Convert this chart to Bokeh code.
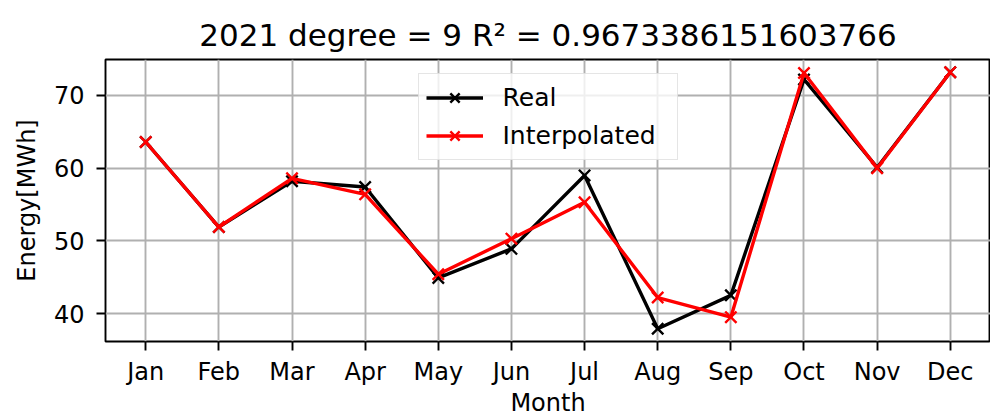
from bokeh.plotting import figure
from bokeh.models import FixedTicker, Range1d
from bokeh.embed import file_html
from bokeh.resources import INLINE

months = ["Jan", "Feb", "Mar", "Apr", "May", "Jun", "Jul", "Aug", "Sep", "Oct", "Nov", "Dec"]
real = [63.6, 51.9, 58.2, 57.4, 44.9, 48.9, 59.0, 37.9, 42.5, 72.2, 60.1, 73.2]
interpolated = [63.6, 51.9, 58.6, 56.4, 45.4, 50.3, 55.3, 42.2, 39.5, 73.1, 60.0, 73.2]
y_ticks = [40, 50, 60, 70]
title_text = "2021 degree = 9 R\u00b2 = 0.9673386151603766"

x = list(range(len(months)))
FONT = "DejaVu Sans"

p = figure(width=990, height=419, output_backend="svg", toolbar_location=None,
           x_range=Range1d(-0.55, 11.55), y_range=Range1d(36.15, 74.95),
           min_border_left=105, min_border_right=0, min_border_top=59, min_border_bottom=78)

p.title.text = title_text
p.title.align = "center"
p.title.text_font = FONT
p.title.text_font_size = "31px"
p.title.text_font_style = "normal"
p.title.text_color = "black"
p.title.offset = 0
p.title.standoff = 14

p.outline_line_color = "black"
p.outline_line_width = 1.9

for ax in (p.xaxis, p.yaxis):
    ax.axis_line_color = None
    ax.major_tick_line_color = "black"
    ax.major_tick_line_width = 1.9
    ax.major_tick_out = 9
    ax.major_tick_in = 0
    ax.minor_tick_line_color = None
    ax.major_label_text_font = FONT
    ax.major_label_text_font_size = "24px"
    ax.major_label_text_color = "black"
    ax.axis_label_text_font = FONT
    ax.axis_label_text_font_size = "24px"
    ax.axis_label_text_font_style = "normal"
    ax.axis_label_text_color = "black"

p.xaxis.ticker = FixedTicker(ticks=x)
p.xaxis.major_label_overrides = {i: m for i, m in enumerate(months)}
p.xaxis.major_label_standoff = 7
p.xaxis.axis_label = "Month"
p.xaxis.axis_label_standoff = 0

p.yaxis.ticker = FixedTicker(ticks=y_ticks)
p.yaxis.major_label_standoff = 12
p.yaxis.axis_label = "Energy[MWh]"
p.yaxis.axis_label_standoff = 10

p.grid.grid_line_color = "#b0b0b0"
p.grid.grid_line_width = 1.9
p.xgrid.ticker = FixedTicker(ticks=x)
p.ygrid.ticker = FixedTicker(ticks=y_ticks)

p.line(x, real, line_color="black", line_width=3.4, legend_label="Real")
p.scatter(x, real, marker="x", size=16, line_color="black", line_width=2.4, legend_label="Real")
p.line(x, interpolated, line_color="red", line_width=3.4, legend_label="Interpolated")
p.scatter(x, interpolated, marker="x", size=16, line_color="red", line_width=2.4, legend_label="Interpolated")

p.legend.location = "top_center"
p.legend.margin = 14
p.legend.label_text_font = FONT
p.legend.label_text_font_size = "25px"
p.legend.label_text_color = "black"
p.legend.border_line_color = "#cccccc"
p.legend.border_line_width = 1.9
p.legend.background_fill_alpha = 0.8
p.legend.glyph_width = 57
p.legend.glyph_height = 33
p.legend.label_height = 33
p.legend.label_width = 167
p.legend.padding = 7
p.legend.spacing = 5
p.legend.label_standoff = 20

open("out.html", "w").write(file_html(p, INLINE))
